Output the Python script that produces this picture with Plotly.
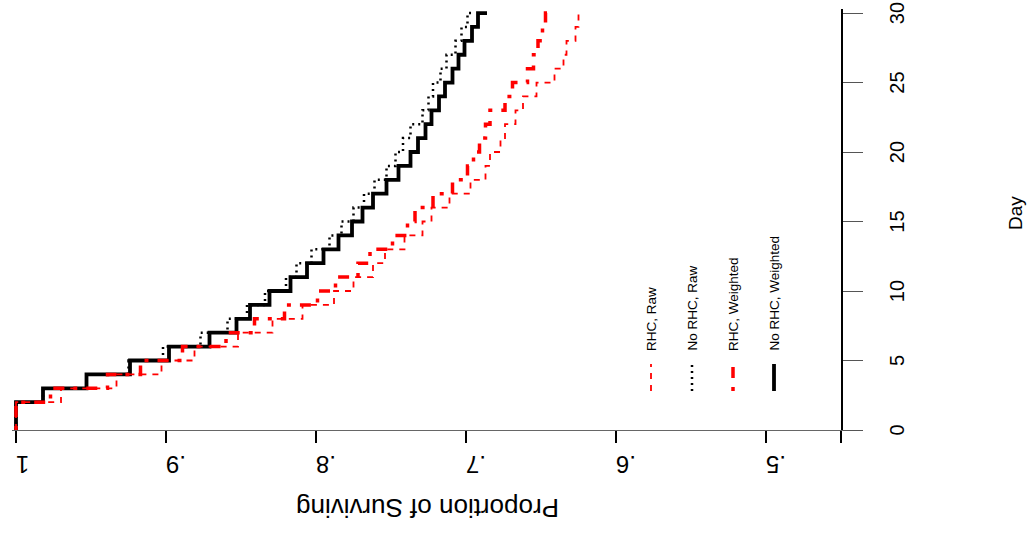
import plotly.graph_objects as go

days = list(range(0, 31))

# Proportion surviving at each day
rhc_raw = [1.000, 1.000, 0.970, 0.933, 0.903, 0.881, 0.852, 0.829, 0.809, 0.788,
           0.775, 0.762, 0.754, 0.741, 0.729, 0.723, 0.711, 0.697, 0.687, 0.684,
           0.677, 0.674, 0.667, 0.662, 0.653, 0.641, 0.635, 0.633, 0.627, 0.625, 0.623]
norhc_raw = [1.000, 1.000, 0.982, 0.953, 0.925, 0.902, 0.877, 0.859, 0.846, 0.834,
             0.820, 0.813, 0.803, 0.791, 0.783, 0.775, 0.768, 0.761, 0.753, 0.747,
             0.742, 0.737, 0.729, 0.725, 0.722, 0.717, 0.713, 0.707, 0.703, 0.699, 0.694]
rhc_wt = [1.000, 1.000, 0.977, 0.939, 0.917, 0.889, 0.860, 0.841, 0.821, 0.799,
          0.787, 0.772, 0.764, 0.749, 0.739, 0.734, 0.722, 0.709, 0.699, 0.695,
          0.691, 0.687, 0.684, 0.674, 0.669, 0.659, 0.655, 0.652, 0.649, 0.647, 0.643]
norhc_wt = [1.000, 1.000, 0.982, 0.953, 0.924, 0.898, 0.871, 0.853, 0.844, 0.831,
            0.817, 0.806, 0.795, 0.785, 0.776, 0.769, 0.762, 0.753, 0.745, 0.737,
            0.732, 0.727, 0.723, 0.718, 0.714, 0.709, 0.705, 0.701, 0.696, 0.692, 0.686]

x_ticks = [1.0, 0.9, 0.8, 0.7, 0.6, 0.5, 0.45]
x_ticktext = ["1", ".9", ".8", ".7", ".6", ".5", ""]
y_ticks = [0, 5, 10, 15, 20, 25, 30]

legend_labels = ["RHC, Raw", "No RHC, Raw", "RHC, Weighted", "No RHC, Weighted"]
legend_colors = ["#FF0000", "#000000", "#FF0000", "#000000"]
legend_widths = [1.8, 2.5, 3.5, 3.8]
legend_dash = ["6px,6px", "2px,4px", "4px,9px,11px,9px", "solid"]

series = [
    (norhc_wt, "#000000", 3.8, "solid"),
    (norhc_raw, "#000000", 2.5, "2px,4px"),
    (rhc_raw, "#FF0000", 1.8, "6px,6px"),
    (rhc_wt, "#FF0000", 3.5, "4px,9px,11px,9px"),
]

fig = go.Figure()
for vals, col, w, dash in series:
    fig.add_trace(go.Scatter(x=vals, y=days, mode="lines",
                             line=dict(color=col, width=w, dash=dash, shape="vh"),
                             showlegend=False, hoverinfo="skip"))

FONT = "Liberation Sans, Arial, Helvetica, sans-serif"

fig.update_layout(
    width=1031, height=534,
    margin=dict(l=12, r=190, t=9, b=104, autoexpand=False),
    paper_bgcolor="white", plot_bgcolor="white",
    font=dict(family=FONT, color="black"),
    showlegend=False,
    xaxis=dict(range=[1.00267, 0.45], tickvals=x_ticks, ticktext=x_ticktext,
               tickangle=180, tickfont=dict(size=24, family=FONT),
               showline=True, linecolor="#666666", linewidth=1.3,
               ticks="outside", ticklen=12, tickwidth=2, tickcolor="black",
               showgrid=False, zeroline=False, ticklabelstandoff=8,
               ticklabeloverflow="allow", automargin=False),
    yaxis=dict(range=[0, 30.29], side="right", tickvals=y_ticks,
               tickangle=-90, tickfont=dict(size=20, family=FONT),
               showline=True, linecolor="black", linewidth=2,
               ticks="outside", ticklen=20, tickwidth=1.3, tickcolor="#555555",
               showgrid=False, zeroline=False, ticklabelstandoff=17,
               ticklabelshift=3,
               ticklabeloverflow="allow", automargin=False),
)

# axis titles
fig.add_annotation(text="Proportion of Surviving", xref="paper", yref="paper",
                   x=(428 - 12) / 829, y=-(508 - 430) / 421, showarrow=False,
                   textangle=180, font=dict(size=26, family=FONT),
                   xanchor="center", yanchor="middle")
fig.add_annotation(text="Day", xref="paper", yref="paper",
                   x=(1016 - 12) / 829, y=(430 - 213) / 421, showarrow=False,
                   textangle=-90, font=dict(size=19, family=FONT),
                   xanchor="center", yanchor="middle")

# rotated legend
leg_px = [651, 692, 733, 774]
for px, lab, col, w, dash in zip(leg_px, legend_labels, legend_colors, legend_widths, legend_dash):
    xp = (px - 12) / 829
    fig.add_shape(type="line", xref="paper", yref="paper",
                  x0=xp, x1=xp, y0=(430 - 391) / 421, y1=(430 - 364) / 421,
                  line=dict(color=col, width=w, dash=dash))
    fig.add_annotation(text=lab, xref="paper", yref="paper", x=xp,
                       y=(430 - 353) / 421, showarrow=False, textangle=-90,
                       font=dict(size=13.5, family=FONT),
                       xanchor="center", yanchor="bottom")

fig.write_html("out.html")
